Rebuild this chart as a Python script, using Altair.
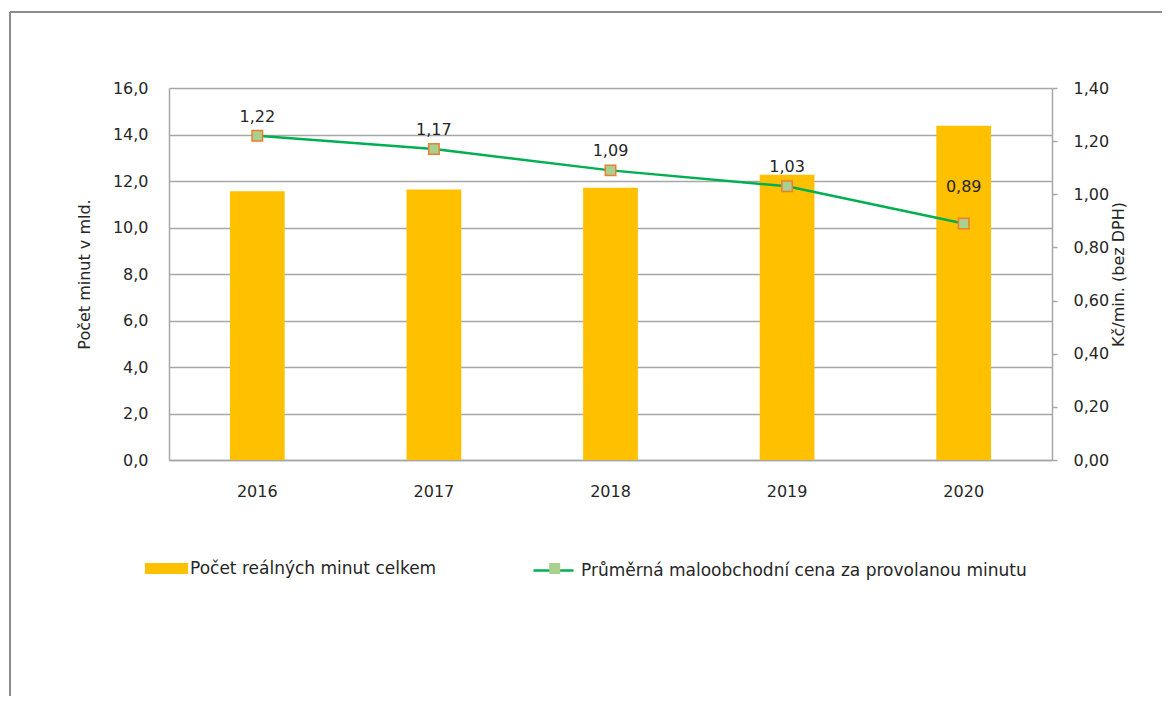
import altair as alt
import pandas as pd

years = ["2016", "2017", "2018", "2019", "2020"]
minutes = [11.56, 11.63, 11.71, 12.27, 14.38]
price = [1.22, 1.17, 1.09, 1.03, 0.89]
bar_name = "Počet reálných minut celkem"
line_name = "Průměrná maloobchodní cena za provolanou minutu"
left_title = "Počet minut v mld."
right_title = "Kč/min. (bez DPH)"

df = pd.DataFrame({
    "year": years,
    "minutes": minutes,
    "price": price,
    "bar_s": [bar_name] * len(years),
    "line_s": [line_name] * len(years),
    # marker legend only draws the square symbol (its label is blank)
    "marker_s": [line_name + " "] * len(years),
})
df["label"] = [f"{p:.2f}".replace(".", ",") for p in price]

FONT = "DejaVu Sans"
TXT = "#262626"
GRID = "#A6A6A6"

x_enc = alt.X(
    "year:N",
    scale=alt.Scale(paddingInner=0.69, paddingOuter=0.345),
    axis=alt.Axis(title=None, labelAngle=0, ticks=False, labelPadding=23,
                  domainColor=GRID, domainWidth=1.5, labelFontSize=16),
)

bars = alt.Chart(df).mark_bar().encode(
    x=x_enc,
    y=alt.Y("minutes:Q", scale=alt.Scale(domain=[0, 16]),
            axis=alt.Axis(title=left_title, values=[0, 2, 4, 6, 8, 10, 12, 14, 16],
                          labelExpr="replace(format(datum.value, '.1f'), '.', ',')",
                          ticks=False, labelPadding=21, grid=True, gridColor=GRID,
                          gridWidth=1.5, domainColor=GRID, domainWidth=1.5,
                          titlePadding=20, titleFontSize=16, labelFontSize=16)),
    color=alt.Color("bar_s:N", scale=alt.Scale(domain=[bar_name], range=["#FFC000"]),
                    legend=alt.Legend(title=None, orient="none", legendX=-24, legendY=459,
                                      symbolType="M-1,-0.256H1V0.256H-1Z", symbolSize=1849,
                                      symbolStrokeWidth=0, symbolOpacity=1, labelOffset=2)),
)

right = alt.Chart(df).encode(
    x=x_enc,
    y=alt.Y("price:Q", scale=alt.Scale(domain=[0, 1.4]),
            axis=alt.Axis(title=right_title, orient="right",
                          values=[0, 0.2, 0.4, 0.6, 0.8, 1.0, 1.2, 1.4],
                          labelExpr="replace(format(datum.value, '.2f'), '.', ',')",
                          grid=False, ticks=True, tickSize=5, tickColor=GRID, tickWidth=1.5,
                          domainColor=GRID, domainWidth=1.5, labelPadding=16,
                          titleAngle=270, titlePadding=18, titleFontSize=16, labelFontSize=16)),
)

line = right.mark_line(strokeWidth=2.5, interpolate="linear").encode(
    stroke=alt.Stroke("line_s:N", scale=alt.Scale(domain=[line_name], range=["#00B050"]),
                      legend=alt.Legend(title=None, orient="none", legendX=363, legendY=461,
                                        symbolType="stroke", symbolSize=1600,
                                        symbolStrokeWidth=2.5, labelOffset=6)),
)

points = right.mark_point(filled=False, color="#ED7D31", fill="#A9D18E", stroke="#ED7D31",
                          strokeWidth=1.5, size=110, opacity=1, fillOpacity=1).encode(
    shape=alt.Shape("marker_s:N", scale=alt.Scale(domain=[line_name + " "], range=["square"]),
                    legend=alt.Legend(title=None, orient="none", legendX=377.2, legendY=472,
                                      symbolType="square", symbolSize=121,
                                      symbolFillColor="#A9D18E", symbolStrokeColor="#ED7D31",
                                      symbolStrokeWidth=2, labelExpr="''")),
)

labels_main = right.transform_filter(alt.datum.year != "2020").mark_text(
    dy=-19, fontSize=16, font=FONT, color=TXT).encode(text="label:N")
labels_last = right.transform_filter(alt.datum.year == "2020").mark_text(
    dy=-37, fontSize=16, font=FONT, color=TXT).encode(text="label:N")

frame_df = pd.DataFrame({"k": [0]})
frame_top = alt.Chart(frame_df).mark_rule(color="#8C8C8C", strokeWidth=2).encode(
    x=alt.value(-159), x2=alt.value(1010), y=alt.value(-76))
frame_left = alt.Chart(frame_df).mark_rule(color="#8C8C8C", strokeWidth=2).encode(
    x=alt.value(-159), y=alt.value(-76), y2=alt.value(640))

chart = alt.layer(
    bars,
    alt.layer(line, points, labels_main, labels_last),
    frame_top,
    frame_left,
).resolve_scale(y="independent", color="independent", stroke="independent",
                shape="independent").properties(
    width=883, height=372,
    autosize=alt.AutoSizeParams(type="none"),
    padding={"left": 161, "top": 80, "right": 110, "bottom": 236},
).configure(
    font=FONT,
).configure_view(stroke=None).configure_axis(
    labelFont=FONT, titleFont=FONT, labelColor=TXT, titleColor=TXT,
    titleFontWeight="normal",
).configure_legend(
    labelFont=FONT, labelFontSize=17, labelColor=TXT, labelLimit=0,
)

chart.save("out.html", embed_options={"renderer": "svg", "actions": False})
